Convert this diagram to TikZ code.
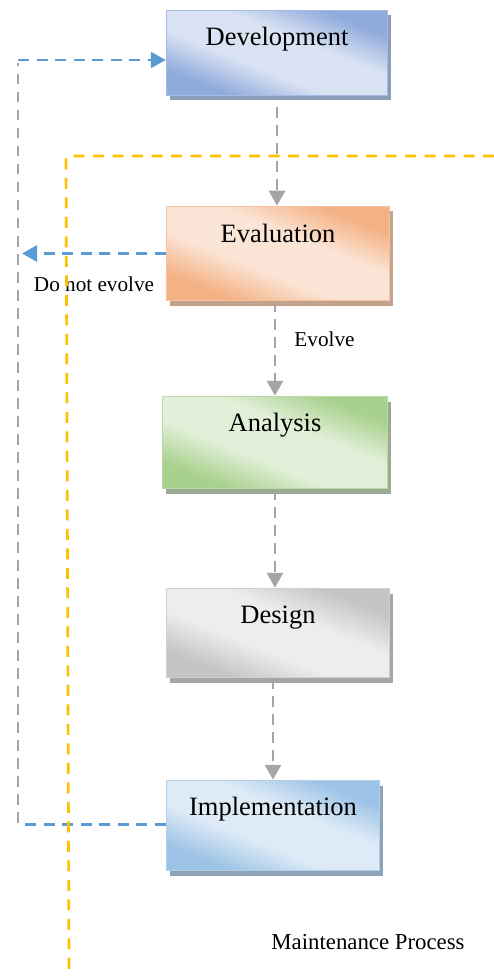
\documentclass[tikz,border=0pt]{standalone}
\usepackage{fontspec}
\setmainfont{Liberation Serif}
\usetikzlibrary{arrows.meta,shadows}

\definecolor{devD}{HTML}{8FAADC}
\definecolor{devL}{HTML}{DAE3F3}
\definecolor{devS}{HTML}{8C9DB9}
\definecolor{evaD}{HTML}{F4B183}
\definecolor{evaL}{HTML}{FBE5D6}
\definecolor{evaS}{HTML}{C3A38E}
\definecolor{anaD}{HTML}{A9D18E}
\definecolor{anaL}{HTML}{E2F0D9}
\definecolor{anaS}{HTML}{9CAA91}
\definecolor{desD}{HTML}{C4C4C4}
\definecolor{desL}{HTML}{EDEDED}
\definecolor{desS}{HTML}{A6A6A6}
\definecolor{impD}{HTML}{9DC3E6}
\definecolor{impL}{HTML}{DEEBF7}
\definecolor{impS}{HTML}{8EA2B8}
\definecolor{lineGray}{HTML}{A5A5A5}
\definecolor{lineBlue}{HTML}{5B9BD5}
\definecolor{lineOrange}{HTML}{FFC000}

\pgfdeclarehorizontalshading{devshade}{100bp}{color(0bp)=(devD); color(27bp)=(devD); color(42bp)=(devL); color(58bp)=(devL); color(73bp)=(devD); color(100bp)=(devD)}
\pgfdeclarehorizontalshading{evashade}{100bp}{color(0bp)=(evaD); color(27bp)=(evaD); color(42bp)=(evaL); color(58bp)=(evaL); color(73bp)=(evaD); color(100bp)=(evaD)}
\pgfdeclarehorizontalshading{anashade}{100bp}{color(0bp)=(anaD); color(27bp)=(anaD); color(42bp)=(anaL); color(58bp)=(anaL); color(73bp)=(anaD); color(100bp)=(anaD)}
\pgfdeclarehorizontalshading{desshade}{100bp}{color(0bp)=(desD); color(27bp)=(desD); color(42bp)=(desL); color(58bp)=(desL); color(73bp)=(desD); color(100bp)=(desD)}
\pgfdeclarehorizontalshading{impshade}{100bp}{color(0bp)=(impD); color(27bp)=(impD); color(42bp)=(impL); color(58bp)=(impL); color(73bp)=(impD); color(100bp)=(impD)}

\tikzset{
  procbox/.style={draw, line width=1.5pt, inner sep=0pt, shade, shading angle=68},
  devbox/.style={procbox, draw=devD!80!white, shading=devshade,
    drop shadow={shadow xshift=3pt, shadow yshift=-5pt, fill=devS, opacity=1}},
  evabox/.style={procbox, draw=evaD!80!white, shading=evashade,
    drop shadow={shadow xshift=3pt, shadow yshift=-5pt, fill=evaS, opacity=1}},
  anabox/.style={procbox, draw=anaD!80!white, shading=anashade,
    drop shadow={shadow xshift=3pt, shadow yshift=-5pt, fill=anaS, opacity=1}},
  desbox/.style={procbox, draw=desD!80!white, shading=desshade,
    drop shadow={shadow xshift=3pt, shadow yshift=-5pt, fill=desS, opacity=1}},
  impbox/.style={procbox, draw=impD!80!white, shading=impshade,
    drop shadow={shadow xshift=3pt, shadow yshift=-5pt, fill=impS, opacity=1}},
  boxtext/.style={inner sep=0pt, anchor=base, font=\fontsize{26.5}{30}\selectfont},
  smalltext/.style={inner sep=0pt, anchor=base, font=\fontsize{21.2}{25}\selectfont},
  grayline/.style={draw=lineGray, line width=2.7pt, dash pattern=on 10.5pt off 7.5pt},
  grayflow/.style={grayline, -{Triangle[length=15pt,width=16pt]}},
  blueline/.style={draw=lineBlue, line width=2.7pt, dash pattern=on 11pt off 7.5pt},
  blueflow/.style={blueline, -{Triangle[length=15pt,width=16pt]}},
  orangeline/.style={draw=lineOrange, line width=2.7pt, dash pattern=on 11pt off 8.5pt}
}

\begin{document}
\begin{tikzpicture}[x=1pt, y=-1pt]
  \useasboundingbox (0,0) rectangle (494,976);

  % process boxes
  \node[devbox, minimum width=221pt, minimum height=85pt] (dev) at (277,53) {};
  \node[evabox, minimum width=223pt, minimum height=94pt] (eva) at (278,253.5) {};
  \node[anabox, minimum width=225pt, minimum height=92pt] (ana) at (275,442.5) {};
  \node[desbox, minimum width=223pt, minimum height=89pt] (des) at (278,633) {};
  \node[impbox, minimum width=213pt, minimum height=90pt] (imp) at (273,825.5) {};

  % box texts
  \node[boxtext] (devt) at ([yshift=-36pt]dev.north) {Development};
  \node[boxtext] (evat) at ([yshift=-36.5pt]eva.north) {Evaluation};
  \node[boxtext] (anat) at ([yshift=-35.5pt]ana.north) {Analysis};
  \node[boxtext] (dest) at ([yshift=-35.5pt]des.north) {Design};
  \node[boxtext] (impt) at ([yshift=-36pt]imp.north) {Implementation};

  % labels
  \node[smalltext] (dne) at (94,291.5) {Do not evolve};
  \node[smalltext] (evo) at (324.5,346) {Evolve};
  \node[inner sep=0pt, anchor=base, font=\fontsize{22.8}{26}\selectfont] (mp) at (368,949) {Maintenance Process};

  % main flow
  \draw[grayflow, shorten <=11pt] (dev.south) -- (dev.south |- eva.north);
  \draw[grayflow] (ana.north |- eva.south) -- (ana.north);
  \draw[grayflow] (ana.south) -- (ana.south |- des.north);
  \draw[grayflow] (imp.north |- des.south) -- (imp.north);

  % feedback loop
  \coordinate (lb) at (18,824.5);
  \coordinate (lt) at (18,60);
  \coordinate (dne end) at (22,253.5);
  \draw[blueline, shorten >=3pt] (imp.west |- lb) -- (lb);
  \draw[grayline, shorten <=2pt, shorten >=3pt] (lb) -- (lt);
  \draw[blueflow] (lt) -- (lt -| dev.west);
  \draw[blueflow] (eva.west) -- (dne end);

  % maintenance boundary
  \coordinate (o1) at (494,156);
  \coordinate (o2) at (66,156);
  \coordinate (o3) at (69,970);
  \draw[orangeline, rounded corners=3pt] (o1) -- (o2) -- (o3);
\end{tikzpicture}
\end{document}
